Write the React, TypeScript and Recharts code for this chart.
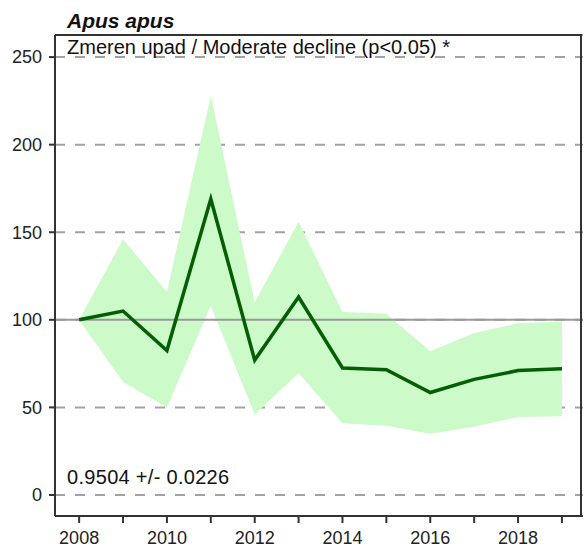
import { ComposedChart, Area, Line, XAxis, YAxis, CartesianGrid, ReferenceLine } from "recharts";

// Apus apus population index (2008 = 100)
const years = [2008, 2009, 2010, 2011, 2012, 2013, 2014, 2015, 2016, 2017, 2018, 2019];
const index = [100, 105, 82.5, 169, 77, 113, 72.5, 71.5, 58.5, 66, 71, 72];
const upper = [100, 146, 116, 228, 110, 156, 104.5, 103.5, 82, 92.5, 98, 99];
const lower = [100, 64.5, 50, 108, 46, 69.5, 41, 39.5, 35, 39, 44.5, 45];

const yTicks = [0, 50, 100, 150, 200, 250];
const xLabels = [2008, 2010, 2012, 2014, 2016, 2018];

const data = years.map((year, i) => ({
  year,
  index: index[i],
  band: [lower[i], upper[i]],
}));

const font = "'Liberation Sans', Arial, sans-serif";

export default function App() {
  return (
    <div style={{ position: "absolute", left: 0, top: 0, width: 585, height: 548, fontFamily: font }}>
      <ComposedChart
        width={585}
        height={548}
        data={data}
        margin={{ top: 35, right: 2, bottom: 0, left: 0 }}
      >
        <CartesianGrid
          vertical={false}
          horizontal
          stroke="#a3a3a3"
          strokeWidth={2}
          strokeDasharray="10 10"
        />
        <Area
          dataKey="band"
          stroke="none"
          fill="#ccfbc9"
          fillOpacity={1}
          isAnimationActive={false}
        />
        <ReferenceLine y={100} stroke="#999" strokeWidth={2} />
        <Line
          dataKey="index"
          stroke="#055d05"
          strokeWidth={3.5}
          dot={false}
          isAnimationActive={false}
        />
        <XAxis
          dataKey="year"
          type="number"
          domain={[2007.45, 2019.48]}
          ticks={years}
          interval={0}
          allowDataOverflow
          height={32}
          tickFormatter={(v: number) => (xLabels.includes(v) ? String(v) : "")}
          stroke="#333"
          strokeWidth={2}
          tickSize={7}
          tickMargin={8}
          tick={{ fill: "#222", fontSize: 18, fontFamily: font }}
        />
        <YAxis
          type="number"
          domain={[-12, 262.6]}
          ticks={yTicks}
          allowDataOverflow
          width={55}
          stroke="#333"
          strokeWidth={2}
          tickSize={6}
          tickMargin={7}
          tick={{ fill: "#222", fontSize: 18, fontFamily: font }}
        />
      </ComposedChart>
      <div
        style={{
          position: "absolute",
          left: 55,
          top: 34,
          width: 527,
          height: 481,
          borderTop: "2px solid #333",
          borderRight: "2px solid #333",
          boxSizing: "border-box",
          pointerEvents: "none",
        }}
      />
      <div style={{ position: "absolute", left: 67, top: 9, fontSize: 21, fontWeight: "bold", fontStyle: "italic", color: "#111", whiteSpace: "nowrap" }}>
        Apus apus
      </div>
      <div style={{ position: "absolute", left: 67, top: 36, fontSize: 20, color: "#111", whiteSpace: "nowrap" }}>
        Zmeren upad / Moderate decline (p&lt;0.05) *
      </div>
      <div style={{ position: "absolute", left: 67, top: 466, fontSize: 20, letterSpacing: 0.3, color: "#111", whiteSpace: "nowrap" }}>
        0.9504 +/- 0.0226
      </div>
    </div>
  );
}
